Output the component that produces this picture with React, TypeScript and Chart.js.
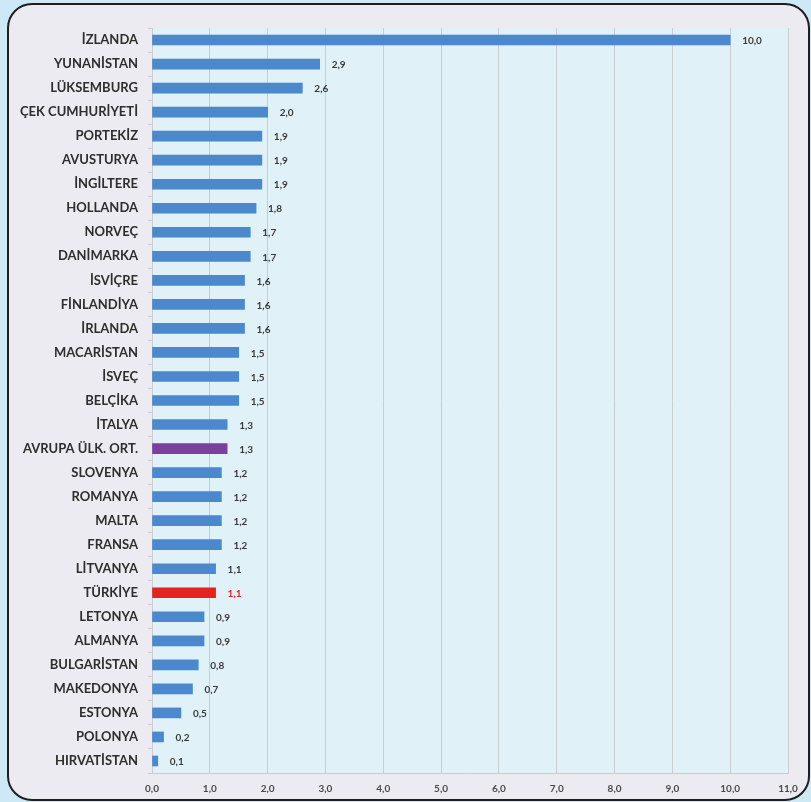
import React, { useEffect, useRef } from "react";
import { Chart, registerables } from "chart.js";

Chart.register(...registerables);

const categories = [
  "İZLANDA", "YUNANİSTAN", "LÜKSEMBURG", "ÇEK CUMHURİYETİ", "PORTEKİZ", "AVUSTURYA",
  "İNGİLTERE", "HOLLANDA", "NORVEÇ", "DANİMARKA", "İSVİÇRE", "FİNLANDİYA", "İRLANDA",
  "MACARİSTAN", "İSVEÇ", "BELÇİKA", "İTALYA", "AVRUPA ÜLK. ORT.", "SLOVENYA", "ROMANYA",
  "MALTA", "FRANSA", "LİTVANYA", "TÜRKİYE", "LETONYA", "ALMANYA", "BULGARİSTAN",
  "MAKEDONYA", "ESTONYA", "POLONYA", "HIRVATİSTAN",
];
const values = [
  10.0, 2.9, 2.6, 2.0, 1.9, 1.9, 1.9, 1.8, 1.7, 1.7, 1.6, 1.6, 1.6, 1.5, 1.5, 1.5,
  1.3, 1.3, 1.2, 1.2, 1.2, 1.2, 1.1, 1.1, 0.9, 0.9, 0.8, 0.7, 0.5, 0.2, 0.1,
];
const averageLabel = "AVRUPA ÜLK. ORT.";
const highlightLabel = "TÜRKİYE";
const xMin = 0;
const xMax = 11;
const xStep = 1;

const BLUE = "#4b88cc";
const PURPLE = "#7b3f9e";
const RED = "#e3231f";

const fmt = (v: number) => v.toFixed(1).replace(".", ",");

const backgroundPlugin = {
  id: "bgBox",
  beforeDraw(chart: any) {
    const { ctx, width, height, chartArea } = chart;
    ctx.save();
    ctx.fillStyle = "#cde9f6";
    ctx.fillRect(0, 0, width, height);
    const x = 8, y = 4, w = 801, h = 796, r = 24;
    ctx.beginPath();
    ctx.moveTo(x + r, y);
    ctx.lineTo(x + w - r, y);
    ctx.arcTo(x + w, y, x + w, y + r, r);
    ctx.lineTo(x + w, y + h - r);
    ctx.arcTo(x + w, y + h, x + w - r, y + h, r);
    ctx.lineTo(x + r, y + h);
    ctx.arcTo(x, y + h, x, y + h - r, r);
    ctx.lineTo(x, y + r);
    ctx.arcTo(x, y, x + r, y, r);
    ctx.closePath();
    ctx.fillStyle = "#ecebf1";
    ctx.fill();
    ctx.lineWidth = 2;
    ctx.strokeStyle = "#1e1e1e";
    ctx.stroke();
    ctx.fillStyle = "#e0f1f7";
    ctx.fillRect(chartArea.left, chartArea.top, chartArea.right - chartArea.left, chartArea.bottom - chartArea.top);
    ctx.restore();
  },
};

const labelPlugin = {
  id: "valueLabels",
  afterDatasetsDraw(chart: any) {
    const { ctx } = chart;
    const meta = chart.getDatasetMeta(0);
    ctx.save();
    ctx.font = "bold 10px Lato, 'Open Sans', sans-serif";
    ctx.textBaseline = "middle";
    ctx.textAlign = "left";
    meta.data.forEach((bar: any, i: number) => {
      ctx.fillStyle = categories[i] === highlightLabel ? RED : "#3a3a3a";
      ctx.fillText(fmt(values[i]), bar.x + 12, bar.y + 1);
    });
    ctx.restore();
  },
};

export default function App() {
  const ref = useRef<HTMLCanvasElement>(null);
  useEffect(() => {
    if (!ref.current) return;
    const colors = categories.map((c) =>
      c === averageLabel ? PURPLE : c === highlightLabel ? RED : BLUE
    );
    const chart = new Chart(ref.current, {
      type: "bar",
      data: {
        labels: categories,
        datasets: [
          {
            data: values,
            backgroundColor: colors,
            borderWidth: 0,
            barThickness: 10,
          },
        ],
      },
      options: {
        indexAxis: "y",
        animation: false,
        responsive: false,
        maintainAspectRatio: false,
        layout: { padding: { left: 0, right: 23, top: 28, bottom: 0 } },
        plugins: { legend: { display: false }, tooltip: { enabled: false } },
        scales: {
          x: {
            min: xMin,
            max: xMax,
            afterFit: (s: any) => { s.height = 29; },
            ticks: {
              stepSize: xStep,
              callback: (v: any) => fmt(Number(v)),
              color: "#4a4a4a",
              font: { family: "Lato, 'Open Sans', sans-serif", size: 10, weight: "bold" },
              padding: 10,
            },
            grid: { color: "#c9cdd0", lineWidth: 1, drawTicks: false },
            border: { color: "#c9cdd0" },
          },
          y: {
            afterFit: (s: any) => { s.width = 152; },
            ticks: {
              color: "#2e2e2e",
              font: { family: "Lato, 'Open Sans', sans-serif", size: 13, weight: "bold" },
              padding: 10,
            },
            grid: {
              offset: true,
              drawOnChartArea: false,
              tickLength: 4,
              color: "#c9cdd0",
            },
            border: { color: "#c9cdd0" },
          },
        },
      },
      plugins: [backgroundPlugin, labelPlugin],
    });
    return () => chart.destroy();
  }, []);
  return (
    <div style={{ position: "fixed", left: 0, top: 0, width: 811, height: 802 }}>
      <canvas ref={ref} width={811} height={802} style={{ display: "block" }} />
    </div>
  );
}
